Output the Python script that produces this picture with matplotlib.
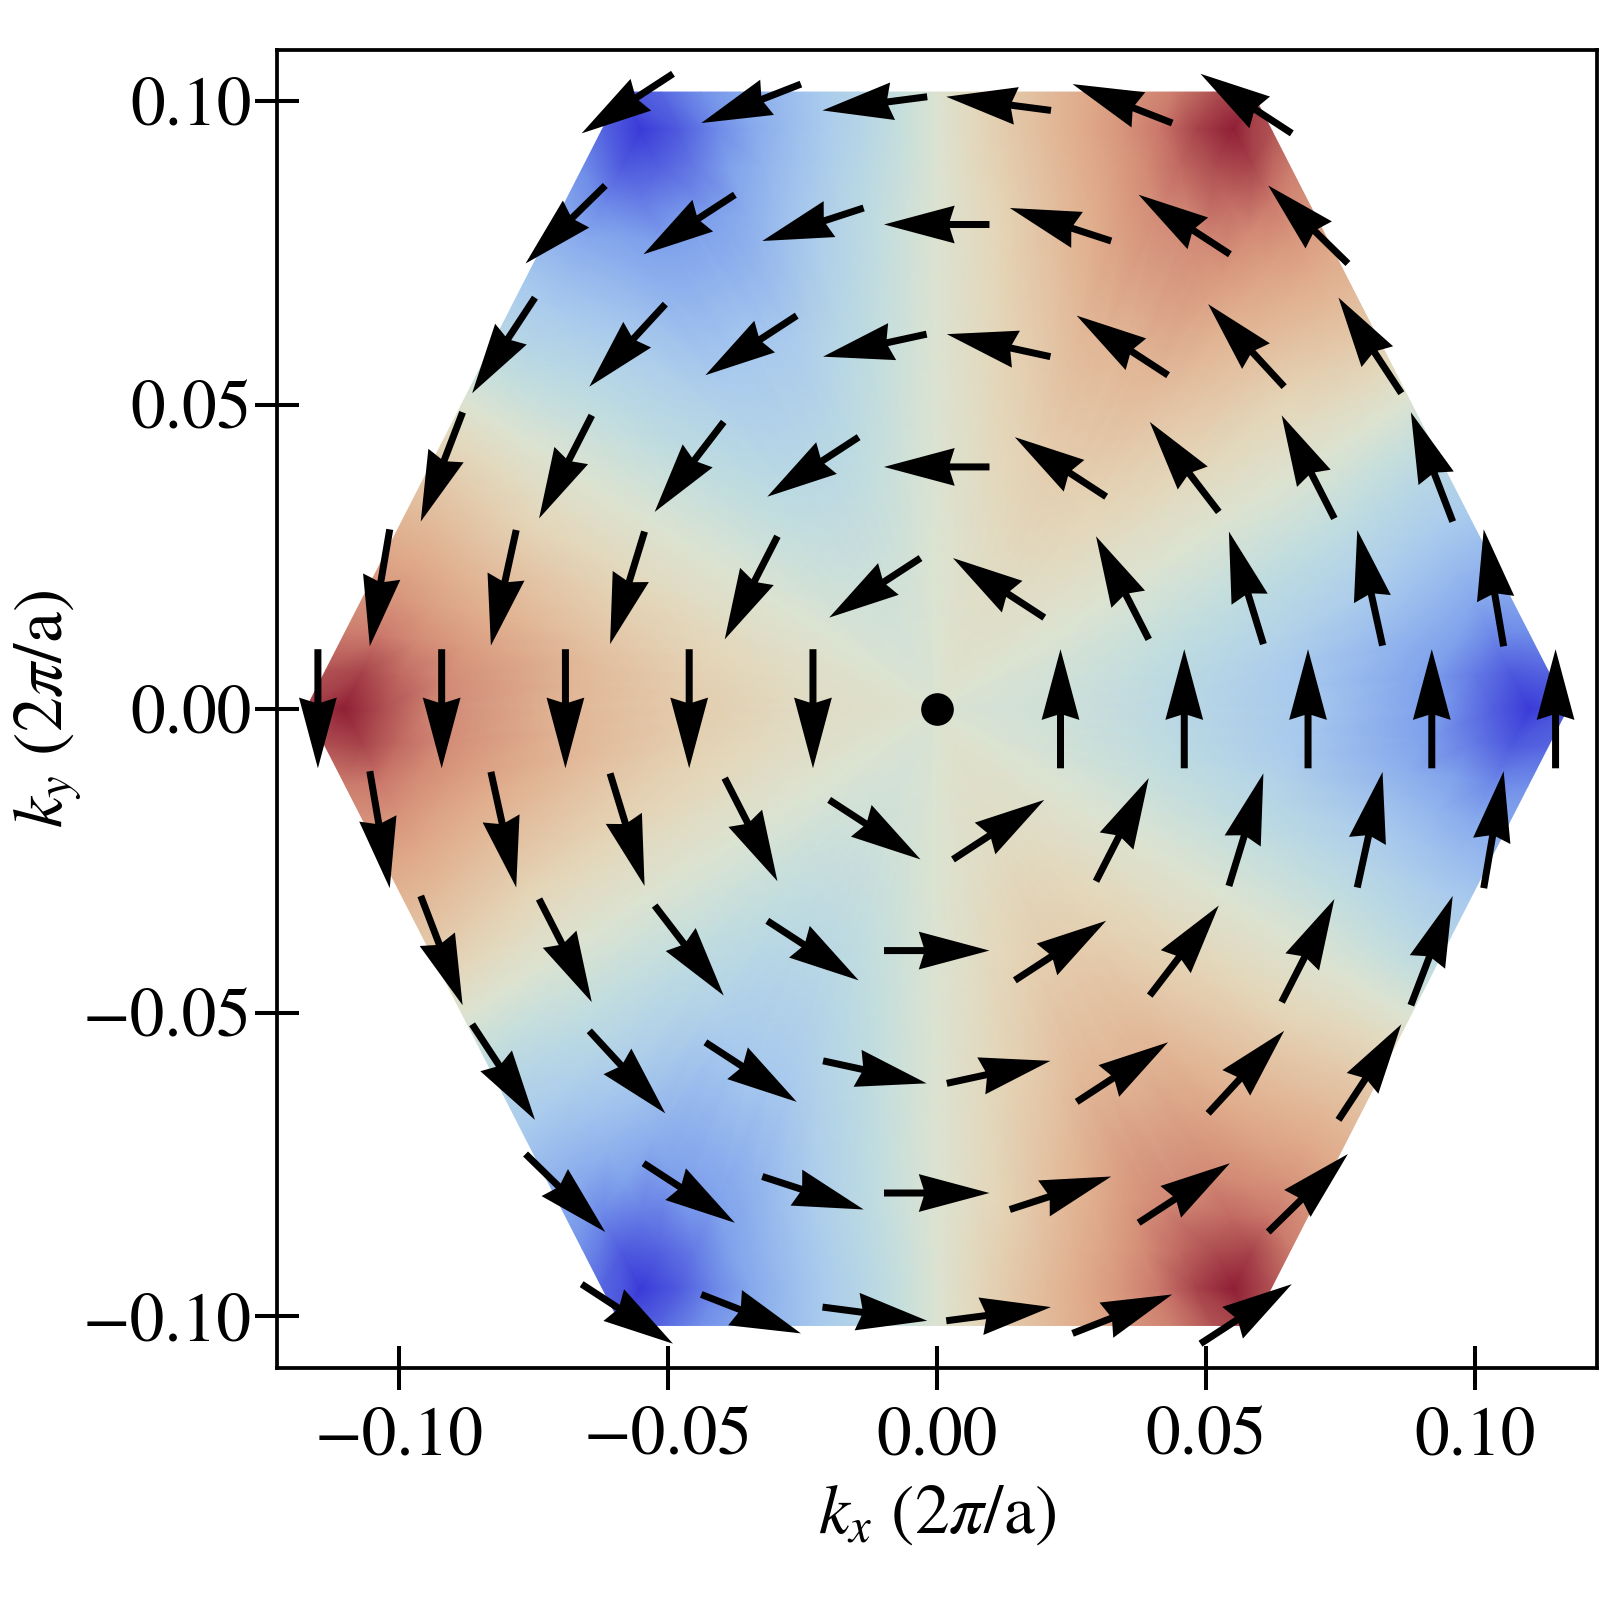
import numpy as np
import matplotlib
matplotlib.use("Agg")
import matplotlib.pyplot as plt
from matplotlib.colors import LinearSegmentedColormap
from matplotlib.tri import Triangulation

plt.rcParams['font.family'] = ['STIXGeneral', 'Liberation Serif', 'DejaVu Serif']
plt.rcParams['mathtext.fontset'] = 'stix'

# arrow sample points, top row first
row_ky = [0.0996, 0.0797, 0.0598, 0.0398, 0.0199, 0.0,
          -0.0199, -0.0398, -0.0598, -0.0797, -0.0996]
row_kx = [
    [-0.0575, -0.0345, -0.0115, 0.0115, 0.0345, 0.0575],
    [-0.069, -0.046, -0.023, 0.0, 0.023, 0.046, 0.069],
    [-0.0805, -0.0575, -0.0345, -0.0115, 0.0115, 0.0345, 0.0575, 0.0805],
    [-0.092, -0.069, -0.046, -0.023, 0.0, 0.023, 0.046, 0.069, 0.092],
    [-0.1035, -0.0805, -0.0575, -0.0345, -0.0115, 0.0115, 0.0345, 0.0575, 0.0805, 0.1035],
    [-0.115, -0.092, -0.069, -0.046, -0.023, 0.023, 0.046, 0.069, 0.092, 0.115],
    [-0.1035, -0.0805, -0.0575, -0.0345, -0.0115, 0.0115, 0.0345, 0.0575, 0.0805, 0.1035],
    [-0.092, -0.069, -0.046, -0.023, 0.0, 0.023, 0.046, 0.069, 0.092],
    [-0.0805, -0.0575, -0.0345, -0.0115, 0.0115, 0.0345, 0.0575, 0.0805],
    [-0.069, -0.046, -0.023, 0.0, 0.023, 0.046, 0.069],
    [-0.0575, -0.0345, -0.0115, 0.0115, 0.0345, 0.0575],
]
row_u = [
    [-.866, -.945, -.993, -.993, -.945, -.866],
    [-.756, -.866, -.961, -1, -.961, -.866, -.756],
    [-.596, -.721, -.866, -.982, -.982, -.866, -.721, -.596],
    [-.397, -.5, -.655, -.866, -1, -.866, -.655, -.5, -.397],
    [-.189, -.24, -.327, -.5, -.866, -.866, -.5, -.327, -.24, -.189],
    [0, 0, 0, 0, 0, 0, 0, 0, 0, 0],
    [.189, .24, .327, .5, .866, .866, .5, .327, .24, .189],
    [.397, .5, .655, .866, 1, .866, .655, .5, .397],
    [.596, .721, .866, .982, .982, .866, .721, .596],
    [.756, .866, .961, 1, .961, .866, .756],
    [.866, .945, .993, .993, .945, .866],
]
row_v = [
    [-.5, -.327, -.115, .115, .327, .5],
    [-.655, -.5, -.277, 0, .277, .5, .655],
    [-.803, -.693, -.5, -.189, .189, .5, .693, .803],
    [-.918, -.866, -.756, -.5, 0, .5, .756, .866, .918],
    [-.982, -.971, -.945, -.866, -.5, .5, .866, .945, .971, .982],
    [-1, -1, -1, -1, -1, 1, 1, 1, 1, 1],
    [-.982, -.971, -.945, -.866, -.5, .5, .866, .945, .971, .982],
    [-.918, -.866, -.756, -.5, 0, .5, .756, .866, .918],
    [-.803, -.693, -.5, -.189, .189, .5, .693, .803],
    [-.655, -.5, -.277, 0, .277, .5, .655],
    [-.5, -.327, -.115, .115, .327, .5],
]

# colour field read along one hexagon sector: ring -> values from corner (t=0) to mid-edge (t=8/16)
hex_radius = 0.1172
ring_scale = [0.2, 0.4, 0.6, 0.8, 0.88, 0.94, 1.0]
ring_profile = [
    [.08, .075, .07, .06, .05, .04, .025, .012, 0],
    [.24, .22, .20, .17, .14, .105, .07, .035, 0],
    [.42, .41, .38, .31, .24, .18, .11, .055, 0],
    [.70, .66, .58, .48, .38, .28, .17, .085, 0],
    [.88, .80, .67, .55, .45, .33, .22, .11, 0],
    [1.0, .90, .76, .61, .50, .38, .26, .13, 0],
    [.92, .86, .74, .62, .52, .40, .28, .14, 0],
]
cmap_stops = [(0.0, '#3a3ad8'), (0.15, '#7a9cec'), (0.30, '#a9cbee'), (0.42, '#c0dde0'),
              (0.5, '#dce3d2'), (0.58, '#e5d6b8'), (0.75, '#e0ab8a'), (0.88, '#cc7a6c'),
              (1.0, '#8f1f35')]
xticks = [-0.10, -0.05, 0.0, 0.05, 0.10]
yticks = [-0.10, -0.05, 0.0, 0.05, 0.10]

# mesh
corner_angle = np.deg2rad(np.arange(7) * 60.0)
corners = np.c_[np.cos(corner_angle), np.sin(corner_angle)] * hex_radius
n_pos = 96
mx, my, mv = [0.0], [0.0], [0.0]
for s, prof in zip(ring_scale, ring_profile):
    for p in range(n_pos):
        n, q = p // 16, p % 16
        pt = corners[n] + (corners[n + 1] - corners[n]) * q / 16
        mx.append(s * pt[0]); my.append(s * pt[1])
        sgn_a = -1 if n % 2 == 0 else 1
        mv.append(sgn_a * prof[q] if q <= 8 else -sgn_a * prof[16 - q])
tris = []
for p in range(n_pos):
    tris.append([0, 1 + p, 1 + (p + 1) % n_pos])
for r in range(len(ring_scale) - 1):
    for p in range(n_pos):
        a = 1 + r * n_pos + p
        b = 1 + r * n_pos + (p + 1) % n_pos
        c = a + n_pos
        d = b + n_pos
        tris += [[a, c, d], [a, d, b]]
tri = Triangulation(mx, my, tris)

cmap = LinearSegmentedColormap.from_list('field', cmap_stops)

fig = plt.figure(figsize=(16, 16), dpi=100)
ax = fig.add_axes([277 / 1600, 1 - 1368 / 1600, (1597 - 277) / 1600, (1368 - 49.5) / 1600])
ax.tripcolor(tri, mv, shading='gouraud', cmap=cmap, vmin=-1, vmax=1, zorder=1)

kx = np.concatenate(row_kx)
ky = np.concatenate([[y] * len(r) for y, r in zip(row_ky, row_kx)])
u = np.concatenate(row_u)
v = np.concatenate(row_v)
ax.quiver(kx, ky, u, v, angles='xy', scale_units='xy', scale=1 / 0.0196, pivot='mid',
          units='dots', width=7, headwidth=5.4, headlength=10.1, headaxislength=9.4,
          color='black', zorder=3)
ax.plot([0], [0], 'o', color='black', ms=23.5, mew=0, zorder=4)

ax.set_xlim(-0.1226, 0.1227)
ax.set_ylim(-0.1085, 0.1085)
ax.set_xticks(xticks)
ax.set_yticks(yticks)
ax.set_xticklabels([f'{t:.2f}'.replace('-', '\u2212') for t in xticks])
ax.set_yticklabels([f'{t:.2f}'.replace('-', '\u2212') for t in yticks])
ax.tick_params(axis='both', direction='inout', length=32, width=2.9, labelsize=50)
ax.tick_params(axis='x', pad=12)
ax.tick_params(axis='y', pad=2)
for sp in ax.spines.values():
    sp.set_linewidth(2.7)
    sp.set_zorder(5)
ax.set_xlabel(r'$k_x$ (2$\pi$/a)', fontsize=50, labelpad=10)
ax.set_ylabel(r'$k_y$ (2$\pi$/a)', fontsize=50, labelpad=-1)
fig.savefig('out.png', dpi=100)
